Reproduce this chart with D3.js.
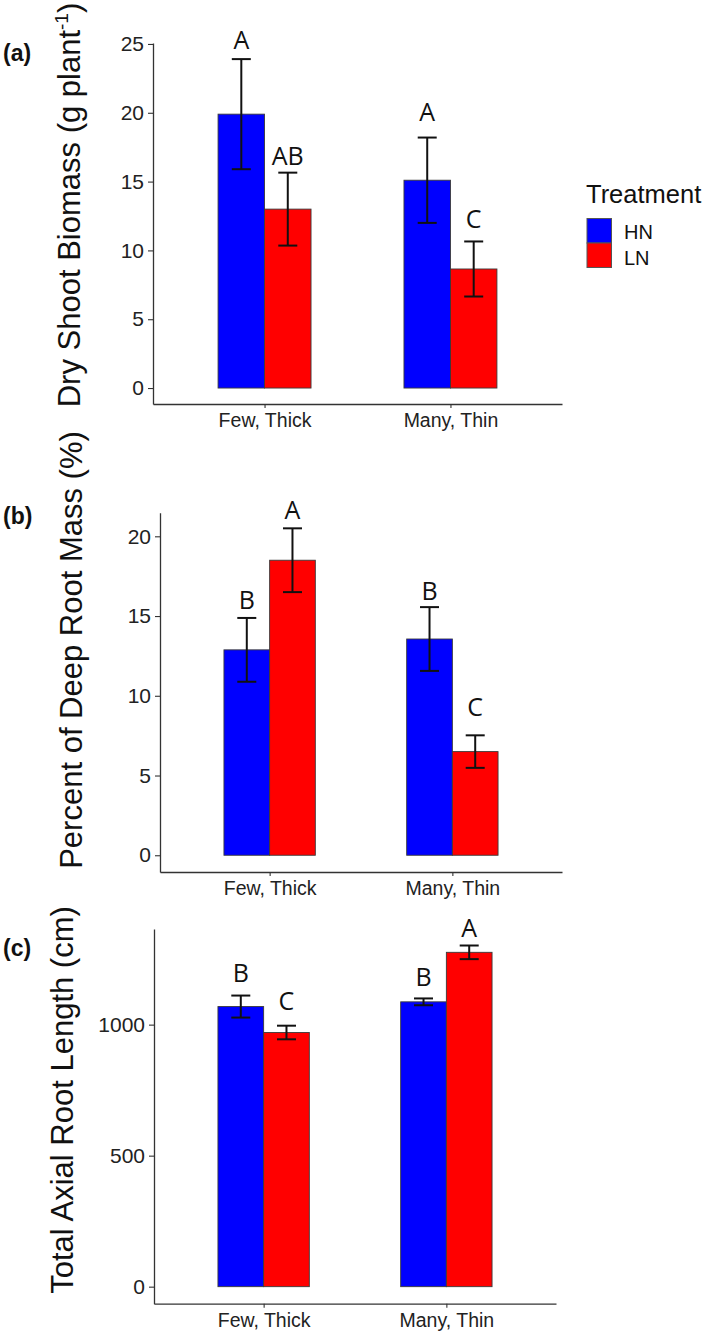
<!DOCTYPE html>
<html>
<head>
<meta charset="utf-8">
<script src="https://cdn.jsdelivr.net/npm/d3@7"></script>
<style>
  html, body { margin: 0; padding: 0; background: #fff; }
  svg { display: block; }
</style>
</head>
<body>
<div id="chart"></div>
<script>
// ---------- DATA ----------
const categories = ["Few, Thick", "Many, Thin"];
const treatments = ["HN", "LN"];
const treatmentColors = ["#0000FF", "#FF0000"];

// (a) Dry shoot biomass (g plant-1)
const shootHN = [19.9, 15.1];
const shootHNErr = [4.0, 3.1];
const shootLN = [13.0, 8.65];
const shootLNErr = [2.65, 2.0];
const shootHNLetters = ["A", "A"];
const shootLNLetters = ["AB", "C"];
const shootHNLetterY = [24.6, 19.4];
const shootLNLetterY = [16.2, 11.6];
const shootTicks = [0, 5, 10, 15, 20, 25];

// (b) Percent of deep root mass (%)
const deepHN = [12.88, 13.56];
const deepHNErr = [2.0, 2.0];
const deepLN = [18.5, 6.5];
const deepLNErr = [2.0, 1.02];
const deepHNLetters = ["B", "B"];
const deepLNLetters = ["A", "C"];
const deepHNLetterY = [15.46, 16.0];
const deepLNLetterY = [21.07, 8.75];
const deepTicks = [0, 5, 10, 15, 20];

// (c) Total axial root length (cm)
const axialHN = [1069, 1087];
const axialHNErr = [42, 13];
const axialLN = [970, 1276];
const axialLNErr = [26, 26];
const axialHNLetters = ["B", "B"];
const axialLNLetters = ["C", "A"];
const axialHNLetterY = [1164, 1148];
const axialLNLetterY = [1056, 1336];
const axialTicks = [0, 500, 1000];

// ---------- LAYOUT ----------
const W = 709, H = 1337;
const SANS = "'Liberation Sans', Arial, sans-serif";
const LETTER_FONT = "'Open Sans', 'Liberation Sans', sans-serif";

const panels = [
  {
    tag: "(a)", tagY: 61,
    title: ["Dry Shoot Biomass (g plant", "-1", ")"], titleX: 80, titleY: 205,
    hn: shootHN, hnErr: shootHNErr, ln: shootLN, lnErr: shootLNErr,
    hnLet: shootHNLetters, lnLet: shootLNLetters, hnLetY: shootHNLetterY, lnLetY: shootLNLetterY,
    ticks: shootTicks, yDomain: [-1.16, 25.07],
    x0: 153, x1: 562, yTop: 43, yBot: 404
  },
  {
    tag: "(b)", tagY: 524,
    title: ["Percent of Deep Root Mass (%)"], titleX: 82, titleY: 650,
    hn: deepHN, hnErr: deepHNErr, ln: deepLN, lnErr: deepLNErr,
    hnLet: deepHNLetters, lnLet: deepLNLetters, hnLetY: deepHNLetterY, lnLetY: deepLNLetterY,
    ticks: deepTicks, yDomain: [-1.05, 21.48],
    x0: 160, x1: 562, yTop: 512.7, yBot: 872
  },
  {
    tag: "(c)", tagY: 956,
    title: ["Total Axial Root Length (cm)"], titleX: 73, titleY: 1100,
    hn: axialHN, hnErr: axialHNErr, ln: axialLN, lnErr: axialLNErr,
    hnLet: axialHNLetters, lnLet: axialLNLetters, hnLetY: axialHNLetterY, lnLetY: axialLNLetterY,
    ticks: axialTicks, yDomain: [-65, 1365],
    x0: 154, x1: 556, yTop: 929, yBot: 1303.7
  }
];

const svg = d3.select("#chart").append("svg")
  .attr("width", W).attr("height", H)
  .attr("viewBox", `0 0 ${W} ${H}`);

svg.append("rect").attr("width", W).attr("height", H).attr("fill", "#fff");

const BAR_W = 0.25;   // in category units (dodge width 0.5)

panels.forEach(p => {
  const g = svg.append("g");
  const x = d3.scaleLinear().domain([0.4, 2.6]).range([p.x0, p.x1]);
  const y = d3.scaleLinear().domain(p.yDomain).range([p.yBot, p.yTop]);

  const rows = [];
  categories.forEach((c, i) => {
    rows.push({cat: i, t: 0, v: p.hn[i], e: p.hnErr[i], lab: p.hnLet[i], ly: p.hnLetY[i]});
    rows.push({cat: i, t: 1, v: p.ln[i], e: p.lnErr[i], lab: p.lnLet[i], ly: p.lnLetY[i]});
  });
  const leftU = d => d.cat + 1 + (d.t === 0 ? -BAR_W : 0);
  const xLeft = d => x(leftU(d));
  const xMid = d => x(leftU(d) + BAR_W / 2);
  const bw = d => x(leftU(d) + BAR_W) - x(leftU(d));

  // bars
  g.selectAll("rect.bar").data(rows).join("rect")
    .attr("class", "bar")
    .attr("x", xLeft)
    .attr("width", bw)
    .attr("y", d => y(d.v))
    .attr("height", d => y(0) - y(d.v))
    .attr("fill", d => treatmentColors[d.t])
    .attr("stroke", "#3a3a3a")
    .attr("stroke-width", 0.9);

  // error bars
  const capHalf = 9.5;
  const eb = g.selectAll("g.err").data(rows).join("g").attr("class", "err")
    .attr("stroke", "#111").attr("stroke-width", 2).attr("fill", "none");
  eb.append("line")
    .attr("x1", xMid).attr("x2", xMid)
    .attr("y1", d => y(d.v - d.e)).attr("y2", d => y(d.v + d.e));
  eb.append("line")
    .attr("x1", d => xMid(d) - capHalf).attr("x2", d => xMid(d) + capHalf)
    .attr("y1", d => y(d.v + d.e)).attr("y2", d => y(d.v + d.e));
  eb.append("line")
    .attr("x1", d => xMid(d) - capHalf).attr("x2", d => xMid(d) + capHalf)
    .attr("y1", d => y(d.v - d.e)).attr("y2", d => y(d.v - d.e));

  // significance letters
  g.selectAll("text.sig").data(rows).join("text")
    .attr("class", "sig")
    .attr("x", xMid)
    .attr("y", d => y(d.ly))
    .attr("text-anchor", "middle")
    .attr("font-family", LETTER_FONT)
    .attr("font-size", 25)
    .attr("fill", "#111")
    .text(d => d.lab);

  // y axis
  const yAxis = d3.axisLeft(y).tickValues(p.ticks).tickFormat(d3.format("d"))
    .tickSize(5).tickSizeOuter(0).tickPadding(4);
  const ya = g.append("g").attr("transform", `translate(${p.x0},0)`).call(yAxis);
  ya.select(".domain").attr("stroke", "#333").attr("stroke-width", 1.3);
  ya.selectAll(".tick line").attr("stroke", "#333").attr("stroke-width", 1.1);
  ya.selectAll(".tick text").attr("font-family", SANS).attr("font-size", 21).attr("fill", "#222");

  // x axis
  const xAxis = d3.axisBottom(x).tickValues([1, 2]).tickFormat(i => categories[i - 1])
    .tickSize(4).tickSizeOuter(0).tickPadding(5);
  const xa = g.append("g").attr("transform", `translate(0,${p.yBot})`).call(xAxis);
  xa.select(".domain").attr("stroke", "#333").attr("stroke-width", 1.3);
  xa.selectAll(".tick line").attr("stroke", "#333").attr("stroke-width", 1.1);
  xa.selectAll(".tick text").attr("font-family", SANS).attr("font-size", 19.5).attr("fill", "#222");

  // y axis title
  const tt = g.append("text")
    .attr("transform", `translate(${p.titleX},${p.titleY}) rotate(-90)`)
    .attr("text-anchor", "middle")
    .attr("font-family", SANS)
    .attr("font-size", 31)
    .attr("fill", "#111");
  if (p.title.length === 3) {
    tt.append("tspan").text(p.title[0]);
    tt.append("tspan").attr("dy", -12).attr("font-size", 19).text(p.title[1]);
    tt.append("tspan").attr("dy", 12).text(p.title[2]);
  } else {
    tt.text(p.title[0]);
  }

  // panel tag
  g.append("text")
    .attr("x", 3).attr("y", p.tagY)
    .attr("font-family", SANS).attr("font-weight", "bold")
    .attr("font-size", 23).attr("fill", "#111")
    .text(p.tag);
});

// ---------- LEGEND ----------
const lg = svg.append("g");
lg.append("text").attr("x", 586).attr("y", 203)
  .attr("font-family", SANS).attr("font-size", 25.5).attr("fill", "#111")
  .text("Treatment");
treatments.forEach((t, i) => {
  lg.append("rect")
    .attr("x", 587).attr("y", 218.5 + i * 24.5)
    .attr("width", 24.5).attr("height", 24.5)
    .attr("fill", treatmentColors[i])
    .attr("stroke", "#555").attr("stroke-width", 1);
  lg.append("text")
    .attr("x", 624).attr("y", 238.5 + i * 26.5)
    .attr("font-family", SANS).attr("font-size", 20).attr("fill", "#111")
    .text(t);
});
</script>
</body>
</html>
